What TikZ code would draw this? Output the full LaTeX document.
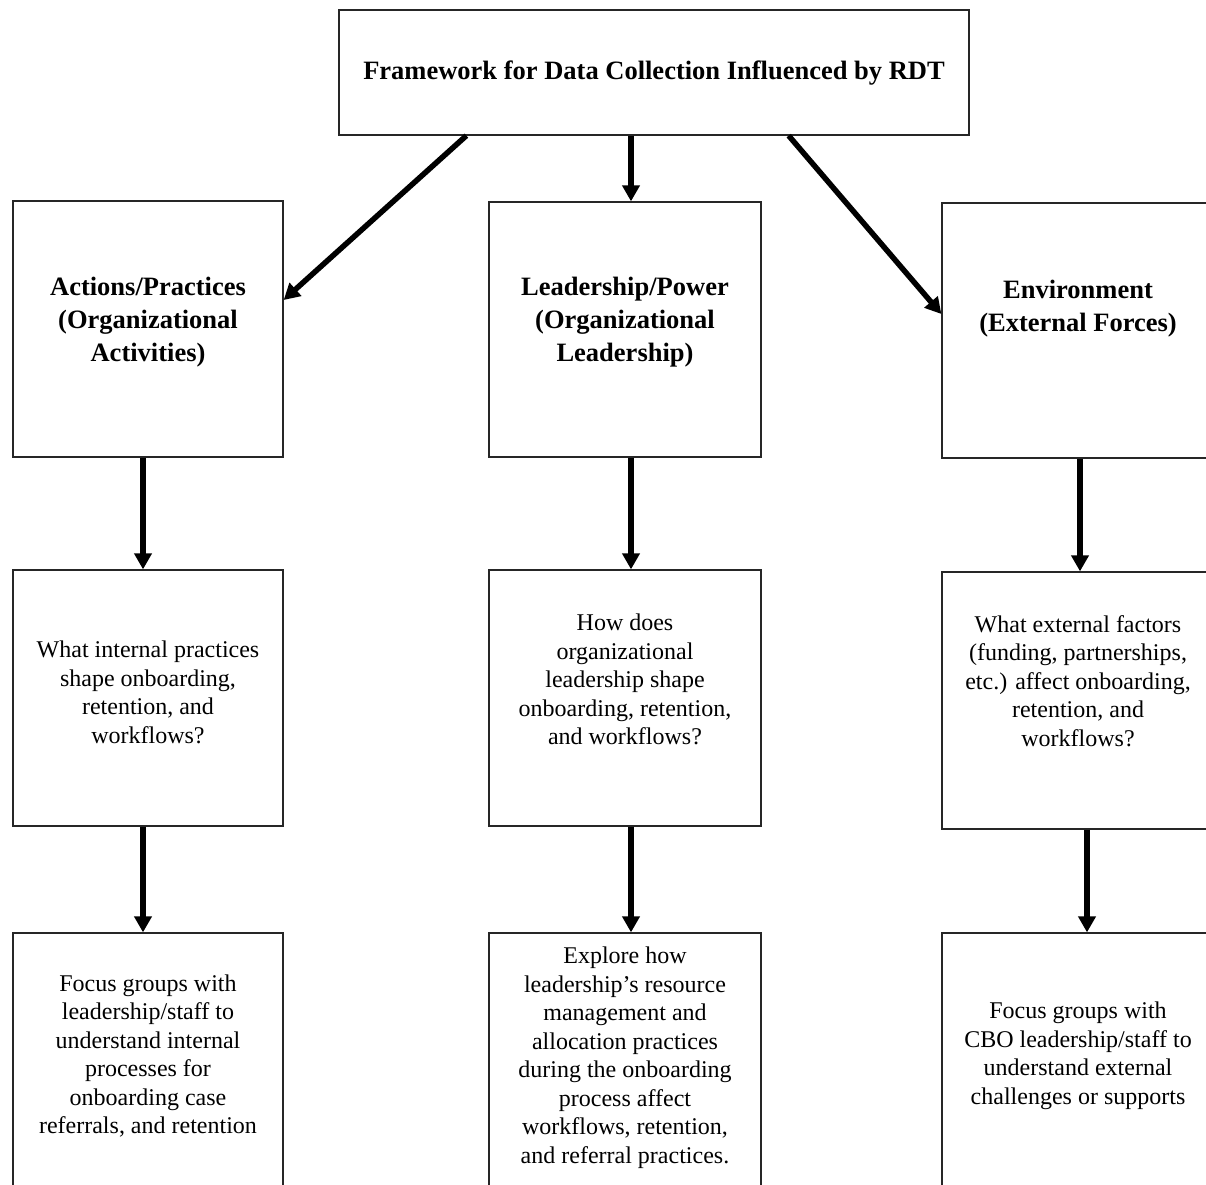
\documentclass[tikz,border=0pt]{standalone}
\usepackage{fontspec}
\setmainfont{Liberation Serif}
\usetikzlibrary{arrows.meta}
\begin{document}
\begin{tikzpicture}[x=1pt,y=-1pt,
  box/.style={draw=black!85,line width=1.3pt,rectangle,inner sep=0pt,fill=white},
  txt/.style={align=center,inner sep=0pt,font=\fontsize{24}{28.5}\selectfont},
  head/.style={align=center,inner sep=0pt,font=\fontsize{26.5}{33}\selectfont\bfseries},
  arr/.style={line width=5.5pt,-{Triangle[length=16pt,width=17pt]}}]
\useasboundingbox (0,0) rectangle (1206,1184);
\clip (0,0) rectangle (1206,1184);
% top
\node[box,minimum width=630pt,minimum height=125pt] (top) at (654,72.5) {};
\node[head] (toptxt) at (654,73) {Framework for Data Collection Influenced by RDT};
% row 1
\node[box,minimum width=270pt,minimum height=256pt] (a1) at (148,329) {};
\node[box,minimum width=272pt,minimum height=255pt] (b1) at (625,329.5) {};
\node[box,minimum width=272pt,minimum height=255pt] (c1) at (1078,330.5) {};
\node[head] (a1t) at (148,322) {Actions/Practices\\(Organizational\\Activities)};
\node[head] (b1t) at (625,322) {Leadership/Power\\(Organizational\\Leadership)};
\node[head] (c1t) at (1078,308.5) {Environment\\(External Forces)};
% row 2
\node[box,minimum width=270pt,minimum height=256pt] (a2) at (148,698) {};
\node[box,minimum width=272pt,minimum height=256pt] (b2) at (625,698) {};
\node[box,minimum width=272pt,minimum height=257pt] (c2) at (1078,700.5) {};
\node[txt] (a2t) at (148,692.5) {What internal practices\\shape onboarding,\\retention, and\\workflows?};
\node[txt] (b2t) at (625,679.5) {How does\\organizational\\leadership shape\\onboarding, retention,\\and workflows?};
\node[txt] (c2t) at (1078,681) {What external factors\\(funding, partnerships,\\etc.) affect onboarding,\\retention, and\\workflows?};
% row 3
\node[box,minimum width=270pt,minimum height=256pt] (a3) at (148,1061) {};
\node[box,minimum width=272pt,minimum height=256pt] (b3) at (625,1061) {};
\node[box,minimum width=272pt,minimum height=256pt] (c3) at (1078,1061) {};
\node[txt] (a3t) at (148,1056) {Focus groups with\\leadership/staff to\\understand internal\\processes for\\onboarding case\\referrals, and retention};
\node[txt] (b3t) at (625,1057.5) {Explore how\\leadership's resource\\management and\\allocation practices\\during the onboarding\\process affect\\workflows, retention,\\and referral practices.};
\node[txt] (c3t) at (1078,1055.5) {Focus groups with\\CBO leadership/staff to\\understand external\\challenges or supports};
% arrows
\draw[arr] ([xshift=128pt]top.south west) -- ([yshift=29pt]a1.east);
\draw[arr] ([xshift=-23pt]top.south) -- ([xshift=6pt]b1.north);
\draw[arr] ([xshift=-181pt]top.south east) -- ([yshift=16.5pt]c1.west);
\draw[arr] ([xshift=-5pt]a1.south) -- ([xshift=-5pt]a2.north);
\draw[arr] ([xshift=6pt]b1.south) -- ([xshift=6pt]b2.north);
\draw[arr] ([xshift=2pt]c1.south) -- ([xshift=2pt]c2.north);
\draw[arr] ([xshift=-5pt]a2.south) -- ([xshift=-5pt]a3.north);
\draw[arr] ([xshift=6pt]b2.south) -- ([xshift=6pt]b3.north);
\draw[arr] ([xshift=9pt]c2.south) -- ([xshift=9pt]c3.north);
\end{tikzpicture}
\end{document}
